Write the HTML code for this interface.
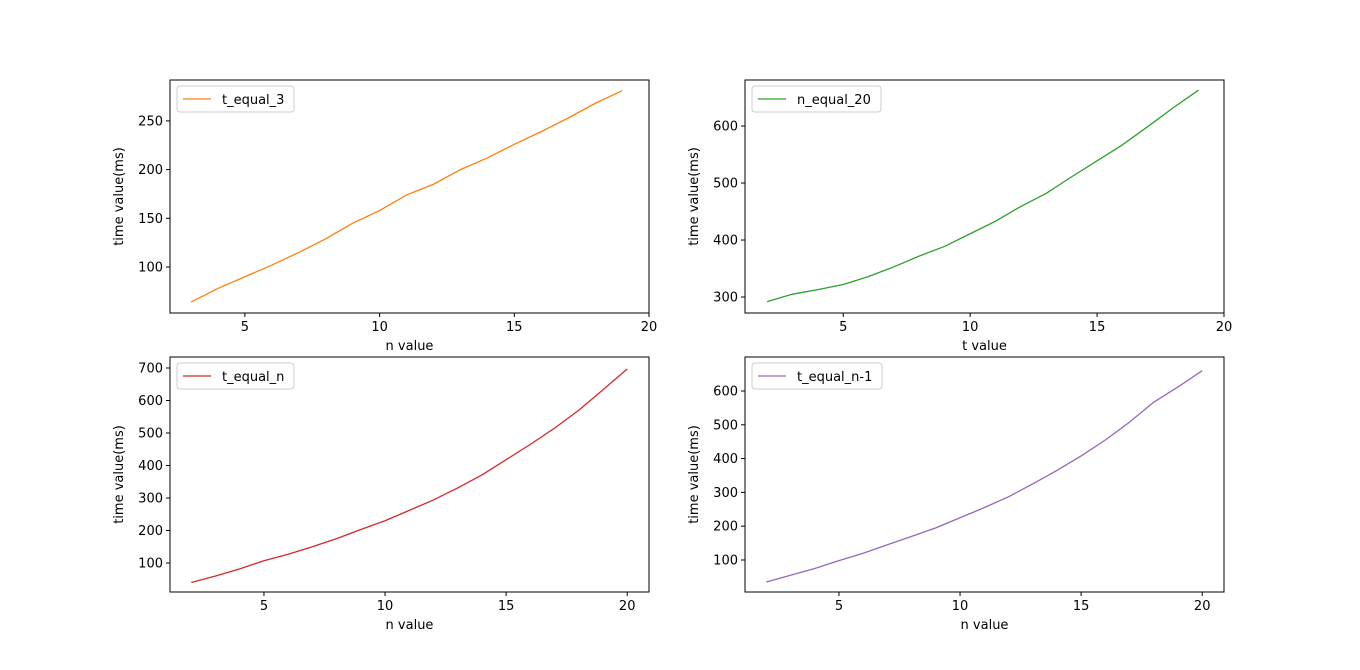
<!DOCTYPE html>
<html><head><meta charset="utf-8"><style>
body{margin:0;background:#fff;font-family:"Liberation Sans","DejaVu Sans",sans-serif}
text{font-family:"DejaVu Sans","Liberation Sans",sans-serif;font-size:13px;fill:#000}
</style></head><body>
<svg id="fig" width="1360" height="665" xmlns="http://www.w3.org/2000/svg"></svg>
<script>
const x1 = [3,4,5,6,7,8,9,10,11,12,13,14,15,16,17,18,19];
const y1 = [64,78,90,102,115,129,145,158,174,185,200,212,226,239,253,268,281];
const x2 = [2,3,4,5,6,7,8,9,10,11,12,13,14,15,16,17,18,19];
const y2 = [292,305,313,322,336,353,372,389,411,433,459,482,511,539,567,599,632,663];
const x3 = [2,3,4,5,6,7,8,9,10,11,12,13,14,15,16,17,18,19,20];
const y3 = [40,60,82,107,127,150,175,203,230,262,294,331,371,418,465,515,570,633,697];
const x4 = [2,3,4,5,6,7,8,9,10,11,12,13,14,15,16,17,18,19,20];
const y4 = [35,55,75,98,120,145,170,195,225,255,287,325,365,408,455,508,567,612,660];
const xt1 = [5,10,15,20], yt1 = [100,150,200,250];
const xt2 = [5,10,15,20], yt2 = [300,400,500,600];
const xt3 = [5,10,15,20], yt3 = [100,200,300,400,500,600,700];
const xt4 = [5,10,15,20], yt4 = [100,200,300,400,500,600];
const NS="http://www.w3.org/2000/svg";
const svg=document.getElementById('fig');
function mk(tag,attrs,parent){const e=document.createElementNS(NS,tag);for(const k in attrs)e.setAttribute(k,attrs[k]);(parent||svg).appendChild(e);return e;}
function plot(name,L,T,W,H,xmin,xmax,ymin,ymax,xs,ys,xt,yt,color,label,xlabel,lw){
  const g=mk('g',{});
  
  
  const sx=v=>L+(v-xmin)/(xmax-xmin)*W, sy=v=>T+H-(v-ymin)/(ymax-ymin)*H;
  const p=mk('polyline',{points:xs.map((x,i)=>sx(x)+','+sy(ys[i])).join(' '),fill:'none',stroke:color,'stroke-width':1.3},g);
  
  
  const r=mk('rect',{x:L,y:T,width:W,height:H,fill:'none',stroke:'#000','stroke-width':1},g);
  
  
  xt.forEach(v=>{const x=sx(v);mk('line',{x1:x,x2:x,y1:T+H,y2:T+H+4,stroke:'#000'},g);
    const t=mk('text',{x:x,y:T+H+18,'text-anchor':'middle'},g);t.textContent=v;
    
    });
  yt.forEach(v=>{const y=sy(v);mk('line',{x1:L-4,x2:L,y1:y,y2:y,stroke:'#000'},g);
    const t=mk('text',{x:L-7,y:y+4.5,'text-anchor':'end'},g);t.textContent=v;
    
    });
  const xl=mk('text',{x:L+W/2,y:T+H+37,'text-anchor':'middle'},g);xl.textContent=xlabel;
  
  
  const yl=mk('text',{x:0,y:0,'text-anchor':'middle',transform:`translate(${L-47},${T+H/2}) rotate(-90)`},g);yl.textContent='time value(ms)';
  
  
  const lg=mk('g',{},g);
  
  
  const lw2=lw;
  mk('rect',{x:L+7,y:T+6,width:lw2,height:26,rx:3,fill:'#fff',stroke:'#ccc'},lg);
  mk('line',{x1:L+13,x2:L+41,y1:T+19,y2:T+19,stroke:color,'stroke-width':1.3},lg);
  const lt=mk('text',{x:L+52,y:T+24},lg);lt.textContent=label;
}
plot('chart-t-equal-3',170,80,479,233,2.22,20,52.8,292,x1,y1,xt1,yt1,'#ff7f0e','t_equal_3','n value',117);
plot('chart-n-equal-20',745,80,479,233,1.13,20,272,680.7,x2,y2,xt2,yt2,'#2ca02c','n_equal_20','t value',129);
plot('chart-t-equal-n',170,357,479,235,1.12,20.9,10.8,733.8,x3,y3,xt3,yt3,'#d62728','t_equal_n','n value',117);
plot('chart-t-equal-n-1',745,357,479,235,1.12,20.9,5.3,700.6,x4,y4,xt4,yt4,'#9467bd','t_equal_n-1','n value',130);
</script>
</body></html>
